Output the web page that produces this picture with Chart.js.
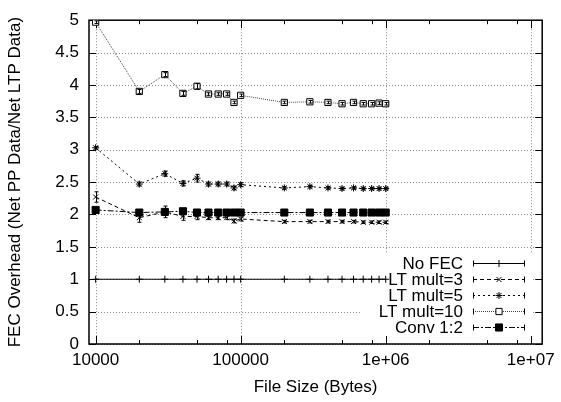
<!DOCTYPE html>
<html>
<head>
<meta charset="utf-8">
<script src="https://cdn.jsdelivr.net/npm/chart.js@4/dist/chart.umd.min.js"></script>
<style>
html,body{margin:0;padding:0;background:#fff;}
#wrap{width:561px;height:402px;}
</style>
</head>
<body>
<div id="wrap"><canvas id="c" width="561" height="402"></canvas></div>
<script>
// ---- data ----
const fileSizes = [10000,20000,30000,40000,50000,60000,70000,80000,90000,100000,200000,300000,400000,500000,600000,700000,800000,900000,1000000];
const noFec    = [1,1,1,1,1,1,1,1,1,1,1,1,1,1,1,1,1,1,1];
const ltMult3  = [2.27,1.95,2.04,1.97,1.97,1.95,1.95,1.95,1.90,1.93,1.89,1.89,1.89,1.89,1.89,1.88,1.88,1.88,1.88];
const ltMult3Err = [0.08,0.07,0.09,0.06,0.05,0.03,0.03,0.03,0.03,0.03,0.02,0.02,0.02,0.02,0.02,0.02,0.02,0.02,0.02];
const ltMult5  = [3.03,2.47,2.63,2.48,2.56,2.47,2.47,2.47,2.41,2.46,2.41,2.43,2.41,2.40,2.41,2.40,2.40,2.40,2.40];
const ltMult5Err = [0.02,0.03,0.04,0.04,0.06,0.03,0.03,0.03,0.03,0.03,0.02,0.02,0.02,0.02,0.02,0.02,0.02,0.02,0.02];
const ltMult10 = [4.97,3.90,4.16,3.87,3.98,3.86,3.86,3.86,3.73,3.84,3.73,3.74,3.73,3.71,3.73,3.71,3.71,3.72,3.71];
const ltMult10Err = [0.02,0.03,0.03,0.03,0.04,0.02,0.02,0.02,0.02,0.02,0.02,0.02,0.02,0.02,0.02,0.02,0.02,0.02,0.02];
const conv12   = [2.07,2.03,2.04,2.05,2.03,2.03,2.03,2.03,2.03,2.03,2.03,2.03,2.03,2.03,2.03,2.03,2.03,2.03,2.03];
const conv12Err = [0.01,0.01,0.02,0.02,0.01,0.01,0.01,0.01,0.01,0.01,0.01,0.01,0.01,0.01,0.01,0.01,0.01,0.01,0.01];
const seriesNames = ['No FEC','LT mult=3','LT mult=5','LT mult=10','Conv 1:2'];
const xTickValues = [10000,100000,1000000,10000000];
const xTickLabels = ['10000','100000','1e+06','1e+07'];
const xMinorTicks = [20000,50000,80000,200000,500000,800000,2000000,5000000,8000000];
const yTickValues = [0,0.5,1,1.5,2,2.5,3,3.5,4,4.5,5];
const xTitle = 'File Size (Bytes)';
const yTitle = 'FEC Overhead (Net PP Data/Net LTP Data)';

const FONT = '"Liberation Sans", Arial, sans-serif';

const styles = [
  {dash:[], ps:'cross', r:3.5, fill:'#000', col:'#000'},
  {dash:[4,3], ps:'crossRot', r:3.5, fill:'#000', col:'#000'},
  {dash:[2,3], ps:'star', r:3.5, fill:'#000', col:'#000'},
  {dash:[1,1], ps:'rect', r:4.4, fill:'#fff', col:'#444'},
  {dash:[6,2,2,2], ps:'rect', r:5, fill:'#000', col:'#000'}
];
const vals = [noFec, ltMult3, ltMult5, ltMult10, conv12];
const errs = [null, ltMult3Err, ltMult5Err, ltMult10Err, conv12Err];

const datasets = vals.map((v,i)=>({
  label: seriesNames[i],
  data: fileSizes.map((x,j)=>({x:x,y:v[j]})),
  borderColor: styles[i].col,
  borderWidth: 1,
  borderDash: styles[i].dash,
  pointStyle: styles[i].ps,
  pointRadius: styles[i].r,
  pointBorderColor: '#000',
  pointBackgroundColor: styles[i].fill,
  pointBorderWidth: 1,
  tension: 0,
  fill: false
}));

const LEG = {textRight:463, x1:473, x2:525, y0:263, dy:16, bg:[360,254,172,82]};

const gnuplotDecor = {
  id:'gnuplotDecor',
  beforeDatasetsDraw(chart){
    const {ctx, chartArea:a, scales:{x,y}} = chart;
    ctx.save();
    // grid
    ctx.strokeStyle = '#8a8a8a';
    ctx.lineWidth = 1;
    ctx.setLineDash([1,2]);
    xTickValues.forEach(v=>{
      const px = Math.round(x.getPixelForValue(v))+0.5;
      ctx.beginPath(); ctx.moveTo(px,a.top); ctx.lineTo(px,a.bottom); ctx.stroke();
    });
    yTickValues.forEach(v=>{
      const py = Math.round(y.getPixelForValue(v))+0.5;
      ctx.beginPath(); ctx.moveTo(a.left,py); ctx.lineTo(a.right,py); ctx.stroke();
    });
    ctx.setLineDash([]);
    // legend background
    ctx.fillStyle = '#fff';
    ctx.fillRect(LEG.bg[0],LEG.bg[1],LEG.bg[2],LEG.bg[3]);
    // ticks
    ctx.strokeStyle = '#000';
    ctx.lineWidth = 1;
    const tk = (x1,y1,x2,y2)=>{ctx.beginPath();ctx.moveTo(x1,y1);ctx.lineTo(x2,y2);ctx.stroke();};
    xTickValues.forEach(v=>{
      const px = Math.round(x.getPixelForValue(v))+0.5;
      tk(px,a.bottom,px,a.bottom-8); tk(px,a.top,px,a.top+8);
    });
    xMinorTicks.forEach(v=>{
      const px = Math.round(x.getPixelForValue(v))+0.5;
      tk(px,a.bottom,px,a.bottom-4); tk(px,a.top,px,a.top+4);
    });
    yTickValues.forEach(v=>{
      const py = Math.round(y.getPixelForValue(v))+0.5;
      tk(a.left,py,a.left+7,py); tk(a.right,py,a.right-7,py);
    });
    // border box
    ctx.lineWidth = 1.5;
    ctx.strokeRect(a.left, a.top, a.right-a.left, a.bottom-a.top);
    ctx.restore();
  },
  afterDatasetsDraw(chart){
    const {ctx, scales:{y}} = chart;
    ctx.save();
    ctx.strokeStyle = '#000';
    ctx.lineWidth = 1;
    errs.forEach((e,i)=>{
      if(!e) return;
      const meta = chart.getDatasetMeta(i);
      meta.data.forEach((pt,j)=>{
        const yt = y.getPixelForValue(vals[i][j]+e[j]);
        const yb = y.getPixelForValue(vals[i][j]-e[j]);
        const px = Math.round(pt.x)+0.5;
        ctx.beginPath();
        ctx.moveTo(px,yt); ctx.lineTo(px,yb);
        ctx.moveTo(px-2,yt); ctx.lineTo(px+2,yt);
        ctx.moveTo(px-2,yb); ctx.lineTo(px+2,yb);
        ctx.stroke();
      });
    });
    // legend
    ctx.font = '17px ' + FONT;
    ctx.textAlign = 'right';
    ctx.textBaseline = 'middle';
    ctx.fillStyle = '#000';
    seriesNames.forEach((n,i)=>{
      const yy = LEG.y0 + i*LEG.dy;
      ctx.fillText(n, LEG.textRight, yy+1);
      const py = Math.round(yy)+0.5;
      ctx.strokeStyle = styles[i].col;
      ctx.setLineDash(styles[i].dash);
      ctx.beginPath(); ctx.moveTo(LEG.x1,py); ctx.lineTo(LEG.x2,py); ctx.stroke();
      ctx.setLineDash([]);
      ctx.strokeStyle = '#000';
      ctx.beginPath();
      ctx.moveTo(LEG.x1+0.5,py-3); ctx.lineTo(LEG.x1+0.5,py+3);
      ctx.moveTo(LEG.x2-0.5,py-3); ctx.lineTo(LEG.x2-0.5,py+3);
      ctx.stroke();
      ctx.fillStyle = styles[i].fill;
      ctx.lineWidth = 1;
      Chart.helpers.drawPoint(ctx, {pointStyle:styles[i].ps, radius:styles[i].r, rotation:0, borderWidth:1}, (LEG.x1+LEG.x2)/2, py);
      ctx.fillStyle = '#000';
    });
    ctx.restore();
  }
};

new Chart(document.getElementById('c'), {
  type:'line',
  data:{datasets},
  plugins:[gnuplotDecor],
  options:{
    responsive:false,
    animation:false,
    events:[],
    layout:{padding:{top:15,right:16,left:0,bottom:0}},
    plugins:{legend:{display:false}, tooltip:{enabled:false}},
    scales:{
      x:{
        type:'logarithmic',
        min:9000, max:12000000,
        afterBuildTicks(s){ s.ticks = xTickValues.map(v=>({value:v})); },
        afterFit(s){ s.height = 58; },
        grid:{display:false, drawTicks:false},
        border:{display:false},
        ticks:{
          color:'#000', font:{family:FONT, size:17}, padding:6, maxRotation:0, autoSkip:false,
          callback(v){ const k = xTickValues.indexOf(v); return k>=0 ? xTickLabels[k] : ''; }
        },
        title:{display:true, text:xTitle, color:'#000', font:{family:FONT, size:17}, padding:{top:0,bottom:4}}
      },
      y:{
        type:'linear',
        min:0, max:5,
        afterBuildTicks(s){ s.ticks = yTickValues.map(v=>({value:v})); },
        afterFit(s){ s.width = 89; },
        grid:{display:false, drawTicks:false},
        border:{display:false},
        ticks:{color:'#000', font:{family:FONT, size:17}, padding:10,
          callback(v){ return String(v); }},
        title:{display:true, text:yTitle, color:'#000', font:{family:FONT, size:17}, padding:{top:5,bottom:0}}
      }
    }
  }
});
</script>
</body>
</html>
